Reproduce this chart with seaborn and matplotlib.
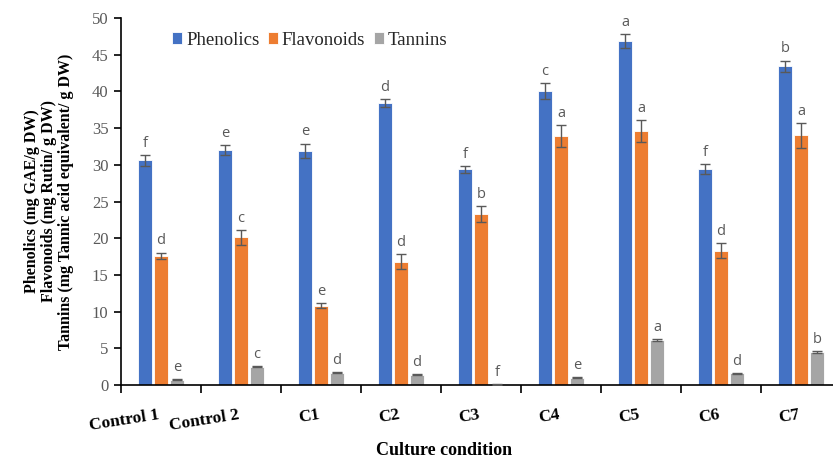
import matplotlib
matplotlib.use("Agg")
import matplotlib.pyplot as plt
import matplotlib.transforms as mtransforms
import numpy as np
import pandas as pd
import seaborn as sns

# Culture conditions and measured contents
conditions = ["Control 1", "Control 2", "C1", "C2", "C3", "C4", "C5", "C6", "C7"]
series_names = ["Phenolics", "Flavonoids", "Tannins"]

phenolics = [30.6, 32.0, 31.9, 38.4, 29.4, 40.0, 46.9, 29.4, 43.4]
flavonoids = [17.6, 20.1, 10.8, 16.8, 23.3, 33.9, 34.6, 18.3, 34.0]
tannins = [0.7, 2.5, 1.7, 1.4, 0.1, 1.0, 6.1, 1.6, 4.5]

phenolics_err = [0.7, 0.7, 1.0, 0.55, 0.45, 1.1, 0.95, 0.7, 0.8]
flavonoids_err = [0.45, 1.0, 0.35, 1.0, 1.1, 1.5, 1.45, 1.0, 1.7]
tannins_err = [0.08, 0.08, 0.08, 0.08, 0.05, 0.08, 0.1, 0.08, 0.08]

# Significance letters (Duncan's groups) per series
phenolics_letters = ["f", "e", "e", "d", "f", "c", "a", "f", "b"]
flavonoids_letters = ["d", "c", "e", "d", "b", "a", "a", "d", "a"]
tannins_letters = ["e", "c", "d", "d", "f", "e", "a", "d", "b"]

colors = ["#4472C4", "#ED7D31", "#A5A5A5"]

values = [phenolics, flavonoids, tannins]
errors = [phenolics_err, flavonoids_err, tannins_err]
letters = [phenolics_letters, flavonoids_letters, tannins_letters]

df = pd.DataFrame({
    "condition": np.tile(conditions, 3),
    "series": np.repeat(series_names, len(conditions)),
    "value": np.concatenate(values),
})

sns.set_theme(style="white")
serif = ["Liberation Serif", "DejaVu Serif"]
plt.rcParams["font.family"] = serif

fig = plt.figure(figsize=(8.33, 4.59), dpi=100)
ax = fig.add_axes([121 / 833, 74 / 459, 720 / 833, 367 / 459])

sns.barplot(
    data=df, x="condition", y="value", hue="series",
    order=conditions, hue_order=series_names, palette=colors,
    width=0.6, gap=0.1, errorbar=None, ax=ax,
    edgecolor="white", linewidth=0.6, saturation=1,
)

grey_text = "#595959"
for container, errs, labs in zip(ax.containers, errors, letters):
    xs = [p.get_x() + p.get_width() / 2 for p in container.patches]
    hs = [p.get_height() for p in container.patches]
    ax.errorbar(xs, hs, yerr=errs, fmt="none", ecolor="#595959",
                elinewidth=1.0, capsize=3.5, capthick=1.0, zorder=4)
    for x, h, e, lab in zip(xs, hs, errs, labs):
        ax.annotate(lab, (x, h + e), xytext=(0, 3), textcoords="offset points",
                    ha="center", va="bottom", fontsize=10.5, color=grey_text,
                    family=["Open Sans", "DejaVu Sans"])

ax.set_xlim(-0.5, 8.5)
ax.set_ylim(0, 50)
yt = np.arange(0, 51, 5)
ax.set_yticks(yt, labels=[str(v) for v in yt], family=serif)

for side in ["top", "right"]:
    ax.spines[side].set_visible(False)
for side in ["left", "bottom"]:
    ax.spines[side].set_color("black")
    ax.spines[side].set_linewidth(1.2)

ax.tick_params(axis="y", which="major", left=True, direction="out", length=5,
               width=1.2, color="black", labelsize=12, labelcolor=grey_text, pad=4)

# Category boundaries carry the tick marks; names sit at group centres
ax.set_xticks(np.arange(-0.5, 9, 1.0), minor=True)
ax.tick_params(axis="x", which="minor", bottom=True, direction="out", length=6,
               width=1.2, color="black")
ax.tick_params(axis="x", which="major", bottom=False, pad=10)
ax.set_xticks(range(len(conditions)))
shift = mtransforms.ScaledTranslation(-3 / 100, 0, fig.dpi_scale_trans)
ax.set_xticklabels(conditions, rotation=9, ha="right", va="top",
                   rotation_mode="anchor", fontsize=12.5, fontweight="bold",
                   color="black")
for lbl in ax.get_xticklabels():
    lbl.set_transform(lbl.get_transform() + shift)

ax.set_xlabel("Culture condition", fontsize=13, fontweight="bold", color="black")
ax.xaxis.set_label_coords((444 - 121) / 720, -0.155)
ax.set_ylabel("Phenolics (mg GAE/g DW)\nFlavonoids (mg Rutin/ g DW)\n"
              "Tannins (mg Tannic acid equivalent/ g DW)",
              fontsize=11.5, fontweight="bold", color="black",
              linespacing=1.08, labelpad=13)

handles, labels_ = ax.get_legend_handles_labels()
ax.legend(handles, labels_, loc="center", bbox_to_anchor=(0.262, 0.94), ncol=3,
          frameon=False, prop={"size": 13.5},
          handlelength=0.55, handleheight=0.55, handletextpad=0.2,
          columnspacing=0.45, borderpad=0)

fig.savefig("out.png", dpi=100)
